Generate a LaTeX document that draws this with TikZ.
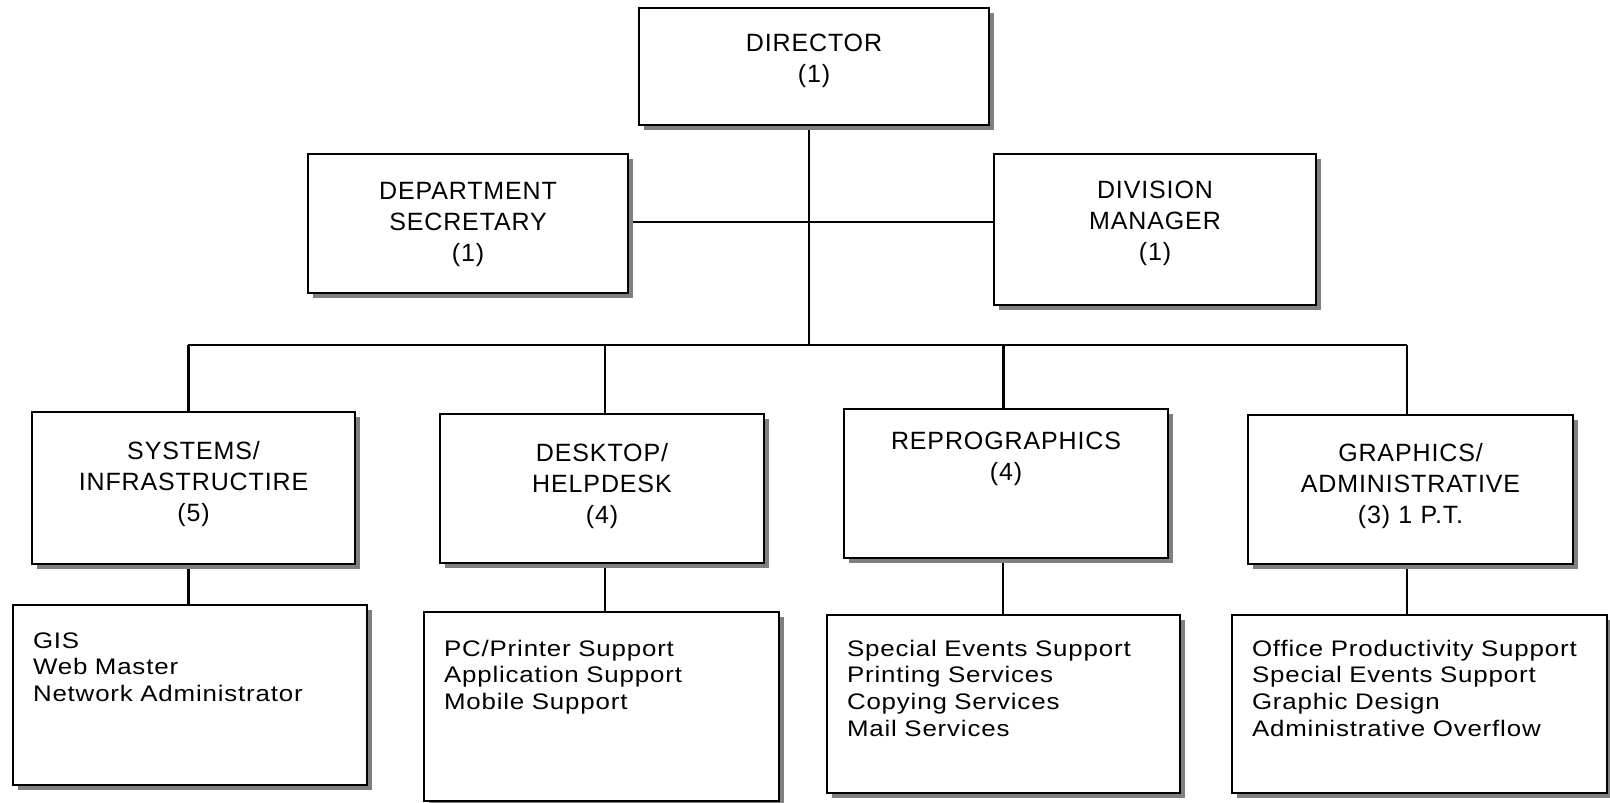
\documentclass[tikz,border=0pt]{standalone}
\usepackage{fontspec}
\setmainfont{Liberation Sans}
\newfontfamily\headfont{Liberation Sans}[LetterSpace=3.5]
\newfontfamily\listfont{Liberation Sans}[FakeStretch=1.15,LetterSpace=3.7]
\usetikzlibrary{shadows}
\pgfdeclarelayer{background}
\pgfsetlayers{background,main}

\tikzset{
  box/.style={draw, fill=white, line width=2pt, inner sep=0pt, anchor=north west,
    drop shadow={shadow xshift=5pt, shadow yshift=-5pt, fill=black!50, opacity=1}},
  % title boxes: centred text, first baseline #2 below the top edge
  unitbox/.style n args={3}{box, text width=#1pt, align=center,
    text height=#2pt, text depth=#3pt, font=\headfont\fontsize{25}{31}\selectfont},
  % duty boxes: left-aligned list
  dutybox/.style n args={3}{box, inner xsep=20pt, text width=#1pt-40pt, align=left,
    text height=#2pt, text depth=#3pt, font=\listfont\fontsize{22.5}{26.7}\selectfont},
  link/.style={line width=2.2pt},
}

\begin{document}
\begin{tikzpicture}[x=1pt, y=-1pt]
\useasboundingbox (0,0) rectangle (1610,803);

% top level
\node[unitbox={350}{43}{74}] (dir) at (638,7) {DIRECTOR\\(1)};
\node[unitbox={320}{45}{94}] (dept) at (307,153) {DEPARTMENT\\SECRETARY\\(1)};
\node[unitbox={322}{44}{107}] (div) at (993,153) {DIVISION\\MANAGER\\(1)};

% sections
\node[unitbox={323}{47}{105}] (sys) at (31,411) {SYSTEMS/\\INFRASTRUCTIRE\\(5)};
\node[unitbox={324}{47}{102}] (desk) at (439,413) {DESKTOP/\\HELPDESK\\(4)};
\node[unitbox={324}{40}{109}] (repro) at (843,408) {REPROGRAPHICS\\(4)};
\node[unitbox={325}{46}{103}] (graph) at (1247,414) {GRAPHICS/\\ADMINISTRATIVE\\(3) 1 P.T.};

% duties
\node[dutybox={354}{43}{137}] (sysL) at (12,604) {GIS\\Web Master\\Network Administrator};
\node[dutybox={355}{44}{145}] (deskL) at (423,611) {PC/Printer Support\\Application Support\\Mobile Support};
\node[dutybox={353}{41}{137}] (reproL) at (826,614) {Special Events Support\\Printing Services\\Copying Services\\Mail Services};
\node[dutybox={375}{41}{137}] (graphL) at (1231,614) {Office Productivity Support\\Special Events Support\\Graphic Design\\Administrative Overflow};

% branch points on the bus
\coordinate (busD) at (809,345);
\coordinate (mid) at (809,222);
\coordinate (busS) at (188,345);
\coordinate (busK) at (605,345);
\coordinate (busR) at (1003,345);
\coordinate (busG) at (1407,345);

\begin{pgfonlayer}{background}
  \draw[link] (dir.south -| busD) -- (busD);
  \draw[link, line width=2pt] (dept.east |- mid) -- (div.west |- mid);
  \draw[link, line width=2.5pt] (busS) -- (busG);
  \draw[link, line width=3pt] (busS) -- (busS |- sys.north);
  \draw[link, line width=2pt] (busK) -- (busK |- desk.north);
  \draw[link, line width=3pt] (busR) -- (busR |- repro.north);
  \draw[link, line width=2pt] (busG) -- (busG |- graph.north);
  \draw[link, line width=3pt] (sys.south -| busS) -- (sysL.north -| busS);
  \draw[link, line width=2pt] (desk.south -| busK) -- (deskL.north -| busK);
  \draw[link, line width=2.7pt] (repro.south -| busR) -- (reproL.north -| busR);
  \draw[link, line width=2pt] (graph.south -| busG) -- (graphL.north -| busG);
\end{pgfonlayer}
\end{tikzpicture}
\end{document}
